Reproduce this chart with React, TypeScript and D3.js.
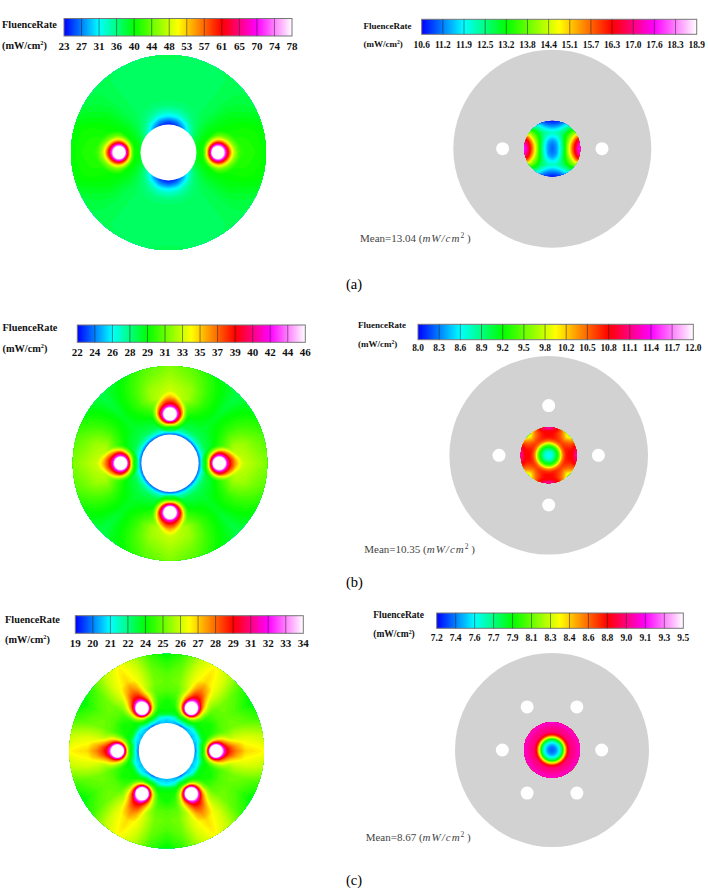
import React, { useMemo } from "react";
import * as d3 from "d3";

// colour bar labels, one list per panel
const ticksA1 = ["23", "27", "31", "36", "40", "44", "48", "53", "57", "61", "65", "70", "74", "78"];
const ticksA2 = ["10.6", "11.2", "11.9", "12.5", "13.2", "13.8", "14.4", "15.1", "15.7", "16.3", "17.0", "17.6", "18.3", "18.9"];
const ticksB1 = ["22", "24", "26", "28", "29", "31", "33", "35", "37", "39", "40", "42", "44", "46"];
const ticksB2 = ["8.0", "8.3", "8.6", "8.9", "9.2", "9.5", "9.8", "10.2", "10.5", "10.8", "11.1", "11.4", "11.7", "12.0"];
const ticksC1 = ["19", "20", "21", "22", "24", "25", "26", "27", "28", "29", "31", "32", "33", "34"];
const ticksC2 = ["7.2", "7.4", "7.6", "7.7", "7.9", "8.1", "8.3", "8.4", "8.6", "8.8", "9.0", "9.1", "9.3", "9.5"];

const barStopIndex = [0, 2, 4, 6.5, 9, 11, 13];
const barStopColor = ["#0000ff", "#00ffff", "#00ff00", "#ffff00", "#ff0000", "#ff00ff", "#ffffff"];

// fibre directions in degrees
const fibresA = [0, 180];
const fibresB = [0, 90, 180, 270];
const fibresC = [0, 60, 120, 180, 240, 300];

// background fluence: rows are angles from a fibre, columns radii
const radiusA = [28, 32, 36, 40, 46, 52, 60, 70, 80, 90, 98];
const angleA = [0, 15, 30, 45, 60, 75, 90];
const fieldA = [
  [40, 40.5, 41, 41, 41, 41, 41.5, 42, 41.5, 41, 40],
  [39, 40, 40.5, 41, 41, 41, 41, 41, 41, 40.5, 40],
  [37, 38, 38.5, 39, 39.5, 39.5, 39.5, 39.5, 39, 38.5, 38],
  [33, 35, 36.5, 37, 37.5, 37.5, 37.5, 37.5, 37.5, 37.5, 37.5],
  [28, 31, 34, 35.5, 36.5, 37, 37, 37, 37, 37, 37.3],
  [25, 28, 31.5, 34, 36, 36.8, 37, 37, 37, 37, 37.3],
  [24, 27, 31, 33.5, 36, 36.8, 37, 37, 37, 37.2, 37.5],
];

const radiusB = [28, 30, 33, 38, 46, 56, 66, 76, 88, 98];
const angleB = [0, 15, 30, 45];
const fieldB = [
  [23, 24.5, 26.8, 28.6, 30, 32, 33.5, 33, 32.3, 31.8],
  [23, 24.5, 26.8, 28.6, 29.5, 31, 32.5, 32.3, 31.5, 31],
  [23, 24.5, 26.8, 28.4, 29, 29.8, 30.3, 30.3, 30, 29.5],
  [23, 24.5, 26.8, 28.2, 28.8, 29, 29, 28.8, 28.6, 28.5],
];

const radiusC = [28, 30, 33, 37, 42, 50, 60, 70, 80, 90, 98];
const angleC = [0, 10, 20, 30];
const fieldC = [
  [19.3, 19.9, 21, 23.3, 24, 24.5, 26.5, 27, 27, 26.8, 26.6],
  [19.3, 19.9, 21, 23.3, 23.8, 24.5, 25.8, 26.2, 26.2, 26, 25.8],
  [19.3, 19.9, 21, 23.3, 23.8, 24.2, 24.7, 25, 24.9, 24.6, 24.3],
  [19.3, 19.9, 21, 23.3, 23.8, 23.8, 24.6, 24.8, 24.5, 24, 23.5],
];

// halo round a fibre: rows are directions (0 outward, 180 towards the centre), columns distances
const haloDistance = [6, 8, 10, 12, 14, 17, 21, 26, 34, 44];
const haloAngle = [0, 15, 45, 90, 180];
const haloA = [
  [78, 70, 62, 57, 52, 47, 43, 41, 38, 30],
  [78, 70, 62, 56.5, 51.5, 46.5, 43, 40.5, 36, 25],
  [78, 70, 61, 55, 50, 45, 42, 39, 30, 20],
  [78, 69, 60, 54, 49, 44, 41, 37, 30, 20],
  [76, 64, 54, 47, 42, 36, 30, 20, 20, 20],
];
const haloB = [
  [46, 42, 39.5, 38, 37, 35.5, 34, 32.5, 31.5, 30],
  [46, 42, 39.5, 38, 37, 35, 33.5, 32, 31, 29.5],
  [46, 42, 39, 37, 35.5, 33, 31, 30, 29, 20],
  [46, 42, 39, 36, 33, 30.5, 29, 28, 20, 20],
  [46, 40, 35, 31, 29, 28, 20, 20, 20, 20],
];
const haloC = [
  [34, 32, 30, 29.5, 29, 28.5, 28, 27.5, 26.5, 25.5],
  [34, 32, 30, 29.3, 28.8, 28.2, 27.5, 27, 26, 25],
  [34, 31, 29, 28, 27.2, 26.2, 25.5, 25, 24, 20],
  [34, 30, 27.8, 26.3, 25.3, 24.6, 24, 23, 20, 20],
  [34, 29.5, 26, 24, 23.5, 22, 20, 20, 20, 20],
];

// inner regions on the right: (a) is a quadrant on a square grid
const gridA2 = [0, 4, 8, 12, 16, 20, 24, 28];
const innerA2 = [
  [11.1, 11.4, 12.0, 13.0, 14.4, 15.7, 16.9, 17.9],
  [11.2, 11.4, 12.1, 13.0, 14.3, 15.6, 16.7, 17.7],
  [11.4, 11.6, 12.2, 13.1, 14.0, 15.1, 16.3, 17.1],
  [11.8, 12.0, 12.4, 13.0, 13.7, 14.4, 15.4, 16.0],
  [12.3, 12.3, 12.5, 12.8, 13.3, 13.8, 14.1, 14.1],
  [11.7, 11.8, 12.0, 12.3, 12.7, 12.9, 12.9, 12.9],
  [11.2, 11.2, 11.4, 11.7, 12.0, 12.1, 12.1, 12.1],
  [10.7, 10.8, 10.9, 11.0, 11.2, 11.2, 11.2, 11.2],
];
const radiusB2 = [0, 4, 8, 11, 14, 17, 20, 24, 28];
const angleB2 = [0, 15, 30, 45];
const innerB2 = [
  [8.6, 8.75, 9.15, 9.65, 10.4, 10.7, 10.8, 10.8, 11.3],
  [8.6, 8.75, 9.15, 9.65, 10.4, 10.7, 10.75, 10.75, 10.95],
  [8.6, 8.75, 9.15, 9.65, 10.4, 10.65, 10.6, 10.5, 10.4],
  [8.6, 8.75, 9.15, 9.65, 10.4, 10.6, 10.5, 10.2, 9.8],
];
const radiusC2 = [0, 3, 5, 7, 9, 11, 13, 14.5, 16, 18, 22, 28];
const innerC2 = [7.34, 7.38, 7.45, 7.55, 7.7, 7.91, 8.35, 8.62, 8.83, 8.97, 9.0, 9.09];

const serif = "'Liberation Serif', serif";
const DEG = 180 / Math.PI;

const rainbow = d3
  .scaleLinear<string>()
  .domain(barStopIndex)
  .range(barStopColor)
  .clamp(true);

function lookup(xs: number[], ys: number[], rows: number[][], x: number, y: number) {
  const place = (list: number[], v: number) => {
    const i = Math.min(Math.max(d3.bisectRight(list, v) - 1, 0), list.length - 2);
    const t = Math.min(Math.max((v - list[i]) / (list[i + 1] - list[i]), 0), 1);
    return [i, t];
  };
  const [ix, tx] = place(xs, x);
  const [iy, ty] = place(ys, y);
  const top = rows[iy][ix] * (1 - tx) + rows[iy][ix + 1] * tx;
  const bottom = rows[iy + 1][ix] * (1 - tx) + rows[iy + 1][ix + 1] * tx;
  return top * (1 - ty) + bottom * ty;
}

function fold(dx: number, dy: number, period: number) {
  let a = Math.atan2(dy, dx) * DEG;
  a = ((a % period) + period) % period;
  return a > period / 2 ? period - a : a;
}

function diskField(radii, angles, rows, period, fibres, halo) {
  const fibreRadius = 49.3;
  return (dx: number, dy: number) => {
    let v = lookup(radii, angles, rows, Math.hypot(dx, dy), fold(dx, dy, period));
    fibres.forEach(deg => {
      const a = deg / DEG;
      const fx = Math.cos(a) * fibreRadius;
      const fy = -Math.sin(a) * fibreRadius;
      const d = Math.hypot(dx - fx, dy - fy);
      if (d > 44) return;
      const cross = Math.atan2(
        Math.abs((dx - fx) * fy - (dy - fy) * fx),
        (dx - fx) * fx + (dy - fy) * fy
      ) * DEG;
      v = Math.max(v, lookup(haloDistance, haloAngle, halo, d, cross));
    });
    return v;
  };
}

function Field({ cx, cy, radius, ticks, field, id }) {
  const lo = +ticks[0];
  const hi = +ticks[ticks.length - 1];
  const layers = useMemo(() => {
    const n = Math.ceil(radius * 2) + 4;
    const values = new Float64Array(n * n);
    for (let j = 0; j < n; j++) {
      for (let i = 0; i < n; i++) {
        values[j * n + i] = field(i + 0.5 - n / 2, j + 0.5 - n / 2);
      }
    }
    const toIndex = d3.scaleLinear().domain([lo, hi]).range([0, 13]);
    const levels = d3.range(lo, hi, (hi - lo) / 100);
    const path = d3.geoPath();
    const shapes = d3.contours().size([n, n]).smooth(true).thresholds(levels)(values as any);
    return {
      n,
      paths: shapes
        .filter(s => s.coordinates.length > 0)
        .map(s => ({ d: path(s) as string, fill: rainbow(toIndex(s.value)) })),
    };
  }, []);
  return (
    <g clipPath={`url(#${id})`}>
      <clipPath id={id}>
        <circle cx={cx} cy={cy} r={radius} />
      </clipPath>
      <g transform={`translate(${cx - layers.n / 2},${cy - layers.n / 2})`}>
        {layers.paths.map((p, i) => (
          <path key={i} d={p.d} fill={p.fill} />
        ))}
      </g>
    </g>
  );
}

function ColorBar({ id, ticks, x0, x1, y0, y1, labelY, labelSize }) {
  const x = d3.scalePoint<string>().domain(ticks).range([x0, x1]);
  return (
    <g>
      <linearGradient id={id}>
        {barStopIndex.map((s, i) => (
          <stop key={i} offset={s / 13} stopColor={barStopColor[i]} />
        ))}
      </linearGradient>
      <rect x={x0} y={y0} width={x1 - x0} height={y1 - y0} fill={`url(#${id})`} stroke="#777" strokeWidth={1} />
      {ticks.slice(1, -1).map(t => (
        <line key={t} x1={x(t)} x2={x(t)} y1={y0} y2={y1} stroke="#222" strokeOpacity={0.65} strokeWidth={0.8} />
      ))}
      {ticks.map(t => (
        <text key={t} x={x(t)} y={labelY} textAnchor="middle" fontSize={labelSize} fontWeight="bold" fontFamily={serif} fill="#111">
          {t}
        </text>
      ))}
    </g>
  );
}

function BarTitle({ x, y1, y2, size }) {
  return (
    <g fontFamily={serif} fontWeight="bold" fontSize={size} fill="#111">
      <text x={x} y={y1}>FluenceRate</text>
      <text x={x} y={y2}>
        (mW/cm<tspan fontSize={size * 0.62} dy={-size * 0.38}>2</tspan>
        <tspan dy={size * 0.38}>)</tspan>
      </text>
    </g>
  );
}

function Mean({ x, y, value }) {
  return (
    <text x={x} y={y} fontFamily={serif} fontSize={11} fill="#444">
      Mean={value} (<tspan fontStyle="italic" letterSpacing={1}>mW/cm</tspan>
      <tspan fontSize={7.5} dy={-4}>2</tspan>
      <tspan dy={4}> )</tspan>
    </text>
  );
}

function LeftDisk({ id, cx, cy, radius, hole, fibres, ticks, field }) {
  return (
    <g>
      <Field id={id} cx={cx} cy={cy} radius={radius} ticks={ticks} field={field} />
      <circle cx={cx} cy={cy} r={hole} fill="#fff" />
      {fibres.map(deg => (
        <circle
          key={deg}
          cx={cx + Math.cos(deg / DEG) * 49.3}
          cy={cy - Math.sin(deg / DEG) * 49.3}
          r={6.3}
          fill="#fff"
        />
      ))}
    </g>
  );
}

function RightDisk({ id, cx, cy, radius, fibres, ticks, field }) {
  return (
    <g>
      <circle cx={cx} cy={cy} r={radius} fill="#d2d2d2" />
      <Field id={id} cx={cx} cy={cy} radius={28} ticks={ticks} field={field} />
      {fibres.map(deg => (
        <circle
          key={deg}
          cx={cx + Math.cos(deg / DEG) * 49.7}
          cy={cy - Math.sin(deg / DEG) * 49.7}
          r={6.5}
          fill="#fff"
        />
      ))}
    </g>
  );
}

const fieldOfA1 = diskField(radiusA, angleA, fieldA, 180, fibresA, haloA);
const fieldOfB1 = diskField(radiusB, angleB, fieldB, 90, fibresB, haloB);
const fieldOfC1 = diskField(radiusC, angleC, fieldC, 60, fibresC, haloC);
const fieldOfA2 = (dx: number, dy: number) => lookup(gridA2, gridA2, innerA2, Math.abs(dx), Math.abs(dy));
const fieldOfB2 = (dx: number, dy: number) => lookup(radiusB2, angleB2, innerB2, Math.hypot(dx, dy), fold(dx, dy, 90));
const fieldOfC2 = (dx: number, dy: number) => lookup(radiusC2, [0, 1], [innerC2, innerC2], Math.hypot(dx, dy), 0);

export default function App() {
  return (
    <svg width={708} height={890} style={{ position: "absolute", left: 0, top: 0, display: "block", background: "#fff" }}>
      {/* row (a) */}
      <BarTitle x={2} y1={28} y2={49} size={10.3} />
      <ColorBar id="barA1" ticks={ticksA1} x0={64} x1={292} y0={18.5} y1={36} labelY={50} labelSize={11} />
      <LeftDisk id="clipA1" cx={168.5} cy={152.5} radius={97.5} hole={28} fibres={fibresA} ticks={ticksA1} field={fieldOfA1} />
      <BarTitle x={363.5} y1={29} y2={47} size={9} />
      <ColorBar id="barA2" ticks={ticksA2} x0={421.7} x1={696.7} y0={19.3} y1={34.3} labelY={47.5} labelSize={9.4} />
      <RightDisk id="clipA2" cx={552.3} cy={148.7} radius={99} fibres={fibresA} ticks={ticksA2} field={fieldOfA2} />
      <Mean x={360} y={241.5} value="13.04" />
      <text x={346} y={289} fontFamily={serif} fontSize={14.5}>(a)</text>

      {/* row (b) */}
      <BarTitle x={2.5} y1={330.5} y2={351.5} size={10.3} />
      <ColorBar id="barB1" ticks={ticksB1} x0={77.3} x1={305.3} y0={325} y1={342.3} labelY={355.5} labelSize={11} />
      <LeftDisk id="clipB1" cx={170} cy={463.3} radius={97.3} hole={28.7} fibres={fibresB} ticks={ticksB1} field={fieldOfB1} />
      <BarTitle x={358} y1={327.5} y2={347} size={9} />
      <ColorBar id="barB2" ticks={ticksB2} x0={418} x1={693.3} y0={324.3} y1={339.7} labelY={351} labelSize={9.4} />
      <RightDisk id="clipB2" cx={548.7} cy={455.3} radius={99.3} fibres={fibresB} ticks={ticksB2} field={fieldOfB2} />
      <Mean x={364.3} y={553} value="10.35" />
      <text x={346} y={587} fontFamily={serif} fontSize={14.5}>(b)</text>

      {/* row (c) */}
      <BarTitle x={5} y1={622.5} y2={643} size={10.3} />
      <ColorBar id="barC1" ticks={ticksC1} x0={75.3} x1={303.3} y0={615.7} y1={633.3} labelY={647} labelSize={11} />
      <LeftDisk id="clipC1" cx={166.7} cy={751} radius={97.3} hole={28} fibres={fibresC} ticks={ticksC1} field={fieldOfC1} />
      <BarTitle x={373.3} y1={617.5} y2={637.3} size={9.5} />
      <ColorBar id="barC2" ticks={ticksC2} x0={436.7} x1={683.3} y0={613} y1={628.3} labelY={641} labelSize={9.5} />
      <RightDisk id="clipC2" cx={552} cy={750} radius={97} fibres={fibresC} ticks={ticksC2} field={fieldOfC2} />
      <Mean x={365.7} y={841} value="8.67" />
      <text x={346} y={885} fontFamily={serif} fontSize={14.5}>(c)</text>
    </svg>
  );
}
